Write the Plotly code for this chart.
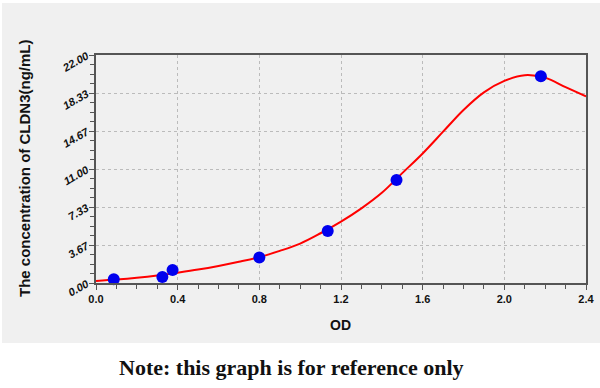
import plotly.graph_objects as go

# Standard points
od_points = [0.087, 0.325, 0.375, 0.80, 1.135, 1.472, 2.179]
conc_points = [0.36, 0.58, 1.25, 2.45, 5.02, 9.94, 19.95]

# Fitted curve
curve_od = [0.0, 0.1, 0.2, 0.3, 0.4, 0.5, 0.6, 0.7, 0.8, 0.9, 1.0, 1.1, 1.2,
            1.3, 1.4, 1.5, 1.6, 1.7, 1.8, 1.9, 2.0, 2.1, 2.2, 2.3, 2.4]
curve_conc = [0.2, 0.33, 0.5, 0.72, 1.0, 1.3, 1.65, 2.05, 2.5, 3.1, 3.8, 4.8, 5.92,
              7.2, 8.7, 10.6, 12.5, 14.6, 16.7, 18.4, 19.5, 20.05, 19.8, 18.9, 18.0]

y_tick_vals = [0, 3.6667, 7.3333, 11, 14.6667, 18.3333, 22]
y_tick_text = ["0.00", "3.67", "7.33", "11.00", "14.67", "18.33", "22.00"]
x_tick_vals = [0.0, 0.4, 0.8, 1.2, 1.6, 2.0, 2.4]
x_tick_text = ["0.0", "0.4", "0.8", "1.2", "1.6", "2.0", "2.4"]

fig = go.Figure()
fig.add_trace(go.Scatter(x=curve_od, y=curve_conc, mode="lines",
                         line=dict(color="#ff0000", width=2, shape="spline", smoothing=1.0),
                         hoverinfo="skip", showlegend=False, cliponaxis=True))
fig.add_trace(go.Scatter(x=od_points, y=conc_points, mode="markers",
                         marker=dict(color="#0000ee", size=12),
                         showlegend=False, cliponaxis=False))

SANS = "Arial, Liberation Sans, sans-serif"

fig.update_layout(
    width=600, height=388,
    margin=dict(l=96, r=14, t=55, b=105),
    paper_bgcolor="white",
    plot_bgcolor="white",
    shapes=[dict(type="rect", xref="paper", yref="paper",
                 x0=-94/490, x1=504/490, y0=-60/228, y1=280/228,
                 fillcolor="#f0f0f0", line=dict(width=0), layer="below")],
    xaxis=dict(range=[0, 2.4], tickvals=x_tick_vals, ticktext=x_tick_text,
               automargin=False,
               showline=True, linecolor="#555", linewidth=2, mirror=True,
               ticks="outside", ticklen=5, tickcolor="#555", tickwidth=1,
               minor=dict(ticks="outside", ticklen=4, dtick=0.1, tick0=0, tickcolor="#555", showgrid=False),
               showgrid=True, gridcolor="#bbbbbb", griddash="dot", gridwidth=1,
               tickfont=dict(family=SANS, size=11, color="#111", weight="bold"),
               zeroline=False),
    yaxis=dict(range=[0, 22], tickvals=y_tick_vals, ticktext=y_tick_text,
               automargin=False,
               showline=True, linecolor="#555", linewidth=2, mirror=True,
               ticks="outside", ticklen=5, tickcolor="#555", tickwidth=1,
               minor=dict(ticks="outside", ticklen=4, dtick=22/24, tick0=0, tickcolor="#555", showgrid=False),
               showgrid=True, gridcolor="#bbbbbb", griddash="dot", gridwidth=1,
               tickangle=-30,
               tickfont=dict(family=SANS, size=11, color="#111", weight="bold", style="italic"),
               zeroline=False),
    annotations=[
        dict(text="OD", xref="paper", yref="paper", x=(340 - 96) / 490, y=-(325 - 283) / 228,
             showarrow=False, xanchor="center", yanchor="middle",
             font=dict(family=SANS, size=14, color="#111", weight="bold")),
        dict(text="The concentration of CLDN3(ng/mL)", xref="paper", yref="paper",
             x=(24 - 96) / 490, y=(283 - 168) / 228, textangle=-90, showarrow=False,
             xanchor="center", yanchor="middle",
             font=dict(family=SANS, size=15, color="#111", weight="bold")),
        dict(text="Note: this graph is for reference only", xref="paper", yref="paper",
             x=(291 - 96) / 490, y=-(367 - 283) / 228, showarrow=False,
             xanchor="center", yanchor="middle",
             font=dict(family="Liberation Serif, DejaVu Serif, serif", size=22, color="#111", weight="bold")),
    ],
)

fig.write_html("out.html",
               config={"displayModeBar": False},
               post_script="document.body.style.margin='0';document.body.style.padding='0';"
                           "document.body.style.overflow='hidden';")
